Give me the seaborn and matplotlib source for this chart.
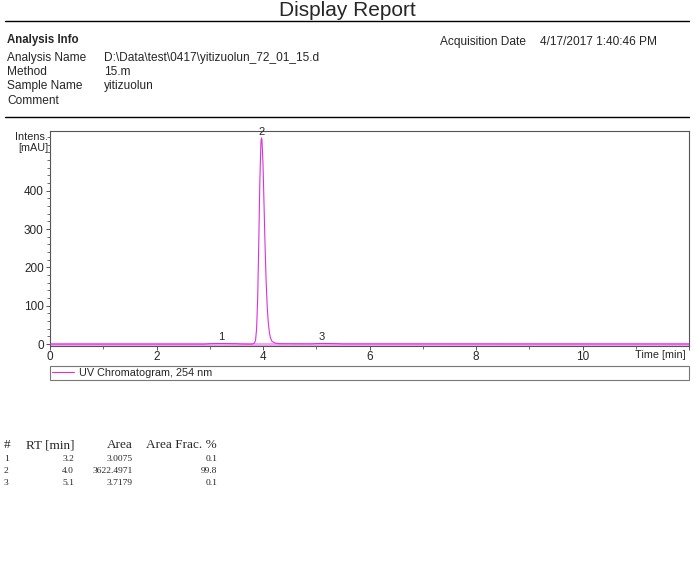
import matplotlib
matplotlib.use("Agg")
import matplotlib.pyplot as plt
import seaborn as sns
import pandas as pd
from matplotlib.ticker import MultipleLocator, FixedLocator
from matplotlib.lines import Line2D

# ---- data ----
time_min = [0.0, 2.9, 3.0, 3.1, 3.2, 3.35, 3.5, 3.6, 3.80, 3.84, 3.86, 3.88, 3.90,
            3.92, 3.94, 3.96, 3.97, 3.98, 4.00, 4.02, 4.04, 4.06, 4.08, 4.10,
            4.12, 4.14, 4.17, 4.22, 4.30, 4.9, 5.0, 5.1, 5.25, 5.4, 5.5, 12.0]
intens_mau = [0.0, 0.0, 1.0, 1.4, 1.5, 1.3, 1.0, 0.2, 0.0, 3.0, 10.0, 40.0, 120.0,
              260.0, 420.0, 522.0, 538.0, 534.0, 470.0, 360.0, 250.0, 160.0, 95.0, 55.0,
              30.0, 16.0, 7.0, 3.0, 1.0, 0.5, 1.2, 1.6, 1.4, 1.0, 0.4, 0.2]

peak_ids = ["1", "2", "3"]
peak_rt_shown = ["3.2", "4.0", "5.1"]
peak_area = ["3.0075", "3622.4971", "3.7179"]
peak_frac = ["0.1", "99.8", "0.1"]
peak_label_x = [3.21, 3.97, 5.11]
peak_label_y = [2, 538, 2]

x_major = [0, 2, 4, 6, 8, 10]
y_major = [0, 100, 200, 300, 400]

W, H = 694, 580
sns.set_style("white")
plt.rcParams['font.family'] = ['Liberation Sans', 'DejaVu Sans']

fig = plt.figure(figsize=(W / 100, H / 100), dpi=100)

def fx(x):
    return x / W

def fy(y):
    return 1 - y / H

# ---- header ----
fig.text(fx(347), fy(11), "Display Report", ha="center", va="center", fontsize=15)
fig.add_artist(Line2D([fx(5), fx(689)], [fy(21), fy(21)], color="black", lw=1.0))
fig.text(fx(7), fy(40), "Analysis Info", ha="left", va="center", fontsize=8.3, fontweight="bold")
fig.text(fx(440), fy(42), "Acquisition Date", ha="left", va="center", fontsize=8.6)
fig.text(fx(540), fy(42), "4/17/2017 1:40:46 PM", ha="left", va="center", fontsize=8.6)
labels = ["Analysis Name", "Method", "Sample Name", "Comment"]
values = [r"D:\Data\test\0417\yitizuolun_72_01_15.d", "15.m", "yitizuolun", ""]
rows_y = [58, 72, 86, 101]
for lab, val, yy in zip(labels, values, rows_y):
    fig.text(fx(7), fy(yy), lab, ha="left", va="center", fontsize=8.6)
    fig.text(fx(104), fy(yy), val, ha="left", va="center", fontsize=8.6)
fig.add_artist(Line2D([fx(5), fx(689)], [fy(117), fy(117)], color="black", lw=1.0))

# ---- chromatogram ----
ax = fig.add_axes([fx(50), fy(346), fx(689) - fx(50), fy(131) - fy(346)])
ax.axhline(0, color="#f2a6f2", lw=2.2, zorder=1)
df = pd.DataFrame({"t": time_min, "i": intens_mau})
sns.lineplot(data=df, x="t", y="i", ax=ax, color="#dd30dd", lw=0.8, zorder=3,
             label="UV Chromatogram, 254 nm", legend=False)
ax.set_xlim(0, 12)
ax.set_ylim(-5, 556)
ax.set_xlabel("")
ax.set_ylabel("")
ax.xaxis.set_major_locator(FixedLocator(x_major + [12]))
ax.set_xticklabels([str(v) for v in x_major] + [""])
ax.xaxis.set_minor_locator(FixedLocator([1, 3, 5, 7, 9, 11]))
ax.yaxis.set_major_locator(FixedLocator(y_major))
ax.yaxis.set_minor_locator(MultipleLocator(20))
ax.tick_params(axis="both", which="major", length=3, width=0.7, color="#555555",
               labelsize=8.5, pad=1.5, direction="out")
ax.tick_params(axis="x", which="major", pad=0.5)
ax.tick_params(axis="both", which="minor", length=2, width=0.6, color="#555555", direction="out")
ax.tick_params(axis="x", which="both", bottom=True)
ax.tick_params(axis="y", which="both", left=True)
for s in ax.spines.values():
    s.set_color("#555555")
    s.set_linewidth(0.8)
for lab, xx, yy in zip(peak_ids, peak_label_x, peak_label_y):
    ax.annotate(lab, (xx, yy), xytext=(0, 1), textcoords="offset points",
                ha="center", va="bottom", fontsize=8)
fig.text(fx(48), fy(137), "Intens.", ha="right", va="center", fontsize=7.8)
fig.text(fx(48), fy(148), "[mAU]", ha="right", va="center", fontsize=7.8)
fig.text(fx(686), fy(355), "Time [min]", ha="right", va="center", fontsize=7.8)

leg = fig.legend(handles=[Line2D([], [], color="#dd30dd", lw=0.8)],
                 labels=["UV Chromatogram, 254 nm"],
                 bbox_to_anchor=(fx(50), fy(381), fx(689) - fx(50), fy(365) - fy(381)),
                 loc="center left", mode="expand", fancybox=False, frameon=True,
                 edgecolor="#555555", fontsize=7.8, borderaxespad=0, borderpad=0.2,
                 handlelength=2.0, handletextpad=0.5)
leg.get_frame().set_linewidth(0.8)

# ---- peak table ----
serif = ['Liberation Serif', 'DejaVu Serif']
ty = 445
hs = 9.5
fig.text(fx(4), fy(ty), "#", ha="left", va="center", fontsize=hs, family=serif)
fig.text(fx(74), fy(ty), "RT [min]", ha="right", va="center", fontsize=hs, family=serif)
fig.text(fx(133), fy(ty), "Area", ha="right", va="center", fontsize=hs, family=serif)
fig.text(fx(217), fy(ty), "Area Frac. %", ha="right", va="center", fontsize=hs, family=serif)
for k, (pid, rt, ar, fr) in enumerate(zip(peak_ids, peak_rt_shown, peak_area, peak_frac)):
    yy = 459 + 12 * k
    fig.text(fx(4), fy(yy), pid, ha="left", va="center", fontsize=6.8, family=serif)
    fig.text(fx(74), fy(yy), rt, ha="right", va="center", fontsize=6.8, family=serif)
    fig.text(fx(133), fy(yy), ar, ha="right", va="center", fontsize=6.8, family=serif)
    fig.text(fx(217), fy(yy), fr, ha="right", va="center", fontsize=6.8, family=serif)

fig.savefig("out.png", dpi=100)
